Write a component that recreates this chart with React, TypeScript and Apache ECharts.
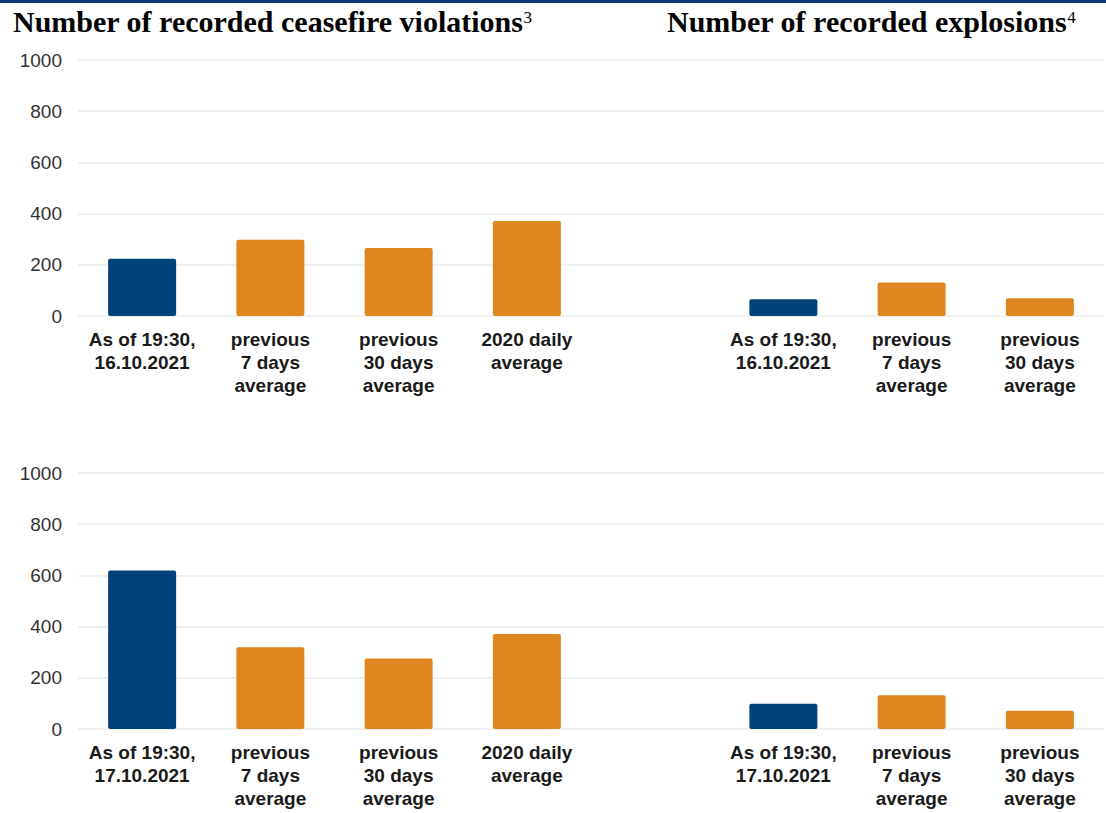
import React, { useEffect, useRef } from "react";
import * as echarts from "echarts";

const topCategories = [
  "As of 19:30,\n16.10.2021",
  "previous\n7 days\naverage",
  "previous\n30 days\naverage",
  "2020 daily\naverage",
  "",
  "As of 19:30,\n16.10.2021",
  "previous\n7 days\naverage",
  "previous\n30 days\naverage",
];
const bottomCategories = [
  "As of 19:30,\n17.10.2021",
  "previous\n7 days\naverage",
  "previous\n30 days\naverage",
  "2020 daily\naverage",
  "",
  "As of 19:30,\n17.10.2021",
  "previous\n7 days\naverage",
  "previous\n30 days\naverage",
];
// ceasefire violations (4 values), gap, explosions (3 values)
const topViolations = [224, 298, 266, 371];
const topExplosions = [65, 131, 69];
const bottomViolations = [619, 319, 275, 371];
const bottomExplosions = [99, 132, 71];
const yTicks = [0, 200, 400, 600, 800, 1000];

const BLUE = "#00427a";
const ORANGE = "#e0861f";

function buildData(v: number[], e: number[]) {
  const all: (number | string)[] = [...v, "-", ...e];
  return all.map((val, i) => {
    const isCurrent = i === 0 || i === v.length + 1;
    return {
      value: val,
      itemStyle: { color: isCurrent ? BLUE : ORANGE, borderRadius: 2 },
    };
  });
}

export default function App() {
  const ref = useRef<HTMLDivElement>(null);
  useEffect(() => {
    document.body.style.margin = "0";
    const chart = echarts.init(ref.current!, undefined, { renderer: "svg" });
    const yAxisBase = (gridIndex: number) => ({
      type: "value" as const,
      gridIndex,
      min: yTicks[0],
      max: yTicks[yTicks.length - 1],
      interval: 200,
      axisLine: { show: false },
      axisTick: { show: false },
      axisLabel: {
        fontSize: 19,
        color: "#333333",
        fontFamily: "Liberation Sans, Arial, sans-serif",
        margin: 16,
        formatter: (v: number) => String(v),
      },
      splitLine: { lineStyle: { color: "#ebebeb", width: 1.5 } },
    });
    const xAxisBase = (gridIndex: number, data: string[]) => ({
      type: "category" as const,
      gridIndex,
      data,
      axisLine: { show: false },
      axisTick: { show: false },
      axisLabel: {
        interval: 0,
        fontSize: 19,
        fontWeight: "bold" as const,
        lineHeight: 23,
        color: "#1a1a1a",
        fontFamily: "Liberation Sans, Arial, sans-serif",
        margin: 12,
      },
    });
    const titleRich = {
      t: {
        fontFamily: "Liberation Serif, Times New Roman, serif",
        fontWeight: "bold" as const,
        fontSize: 30,
        fill: "#000",
        lineHeight: 34,
      },
      s: {
        fontFamily: "Liberation Serif, Times New Roman, serif",
        fontSize: 17,
        fill: "#000",
        lineHeight: 34,
        verticalAlign: "top" as const,
        padding: [5, 0, 0, 0],
      },
    };
    chart.setOption({
      animation: false,
      backgroundColor: "#ffffff",
      grid: [
        { left: 78, right: 2, top: 60, height: 256 },
        { left: 78, right: 2, top: 473, height: 256 },
      ],
      xAxis: [xAxisBase(0, topCategories), xAxisBase(1, bottomCategories)],
      yAxis: [yAxisBase(0), yAxisBase(1)],
      series: [
        {
          type: "bar",
          xAxisIndex: 0,
          yAxisIndex: 0,
          barWidth: 68,
          data: buildData(topViolations, topExplosions),
        },
        {
          type: "bar",
          xAxisIndex: 1,
          yAxisIndex: 1,
          barWidth: 68,
          data: buildData(bottomViolations, bottomExplosions),
        },
      ],
      graphic: [
        {
          type: "rect",
          left: 0,
          top: 0,
          shape: { width: 1106, height: 3 },
          style: { fill: "#0a3a72" },
        },
        {
          type: "text",
          left: 13,
          top: 4,
          style: {
            text: "{t|Number of recorded ceasefire violations}{s|3}",
            rich: titleRich,
          },
        },
        {
          type: "text",
          left: 667,
          top: 4,
          style: {
            text: "{t|Number of recorded explosions}{s|4}",
            rich: titleRich,
          },
        },
      ],
    });
    return () => chart.dispose();
  }, []);
  return <div ref={ref} style={{ width: 1106, height: 813 }} />;
}
